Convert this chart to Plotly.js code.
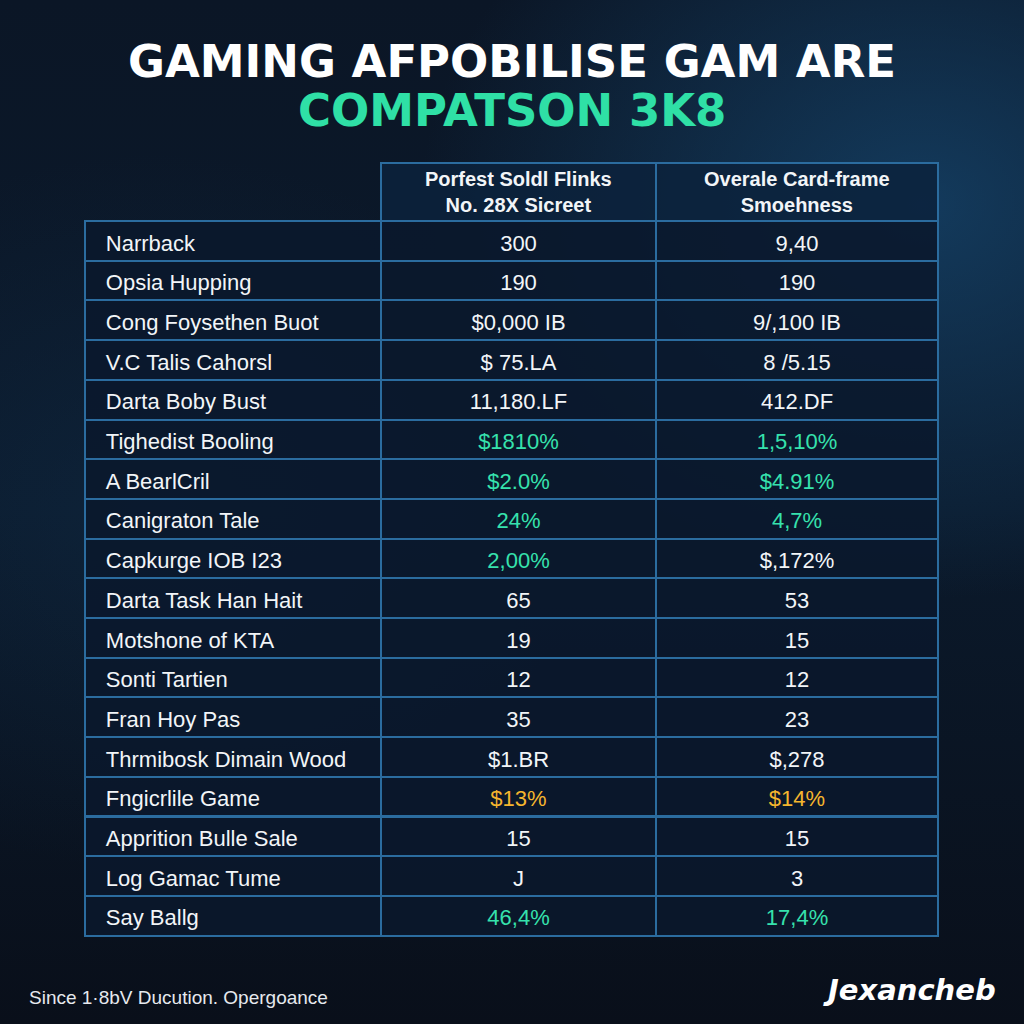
<!DOCTYPE html>
<html>
<head>
<meta charset="utf-8">
<script src="https://cdn.plot.ly/plotly-3.0.1.min.js"></script>
<style>
  html, body { margin: 0; padding: 0; width: 1024px; height: 1024px; overflow: hidden; }
  body {
    background:
      radial-gradient(ellipse 70% 55% at 90% 20%, rgba(22,70,110,0.75), rgba(22,70,110,0) 70%),
      radial-gradient(ellipse 60% 50% at 15% 50%, rgba(18,50,80,0.35), rgba(18,50,80,0) 70%),
      linear-gradient(180deg, #0b1626 0%, #0b1a2c 50%, #090f1a 100%);
  }
  #chart { width: 1024px; height: 1024px; }
</style>
</head>
<body>
<div id="chart"></div>
<script>
// ---- data ----
const titleLine1 = "GAMING AFPOBILISE GAM ARE";
const titleLine2 = "COMPATSON 3K8";
const columnHeaders = ["", "Porfest Soldl Flinks<br>No. 28X Sicreet", "Overale Card-frame<br>Smoehness"];
const rowLabels = [
  "Narrback", "Opsia Hupping", "Cong Foysethen Buot", "V.C Talis Cahorsl", "Darta Boby Bust",
  "Tighedist Booling", "A BearlCril", "Canigraton Tale", "Capkurge IOB I23", "Darta Task Han Hait",
  "Motshone of KTA", "Sonti Tartien", "Fran Hoy Pas", "Thrmibosk Dimain Wood", "Fngicrlile Game",
  "Apprition Bulle Sale", "Log Gamac Tume", "Say Ballg"
];
const seriesA = [
  "300", "190", "$0,000 IB", "$ 75.LA", "11,180.LF",
  "$1810%", "$2.0%", "24%", "2,00%", "65",
  "19", "12", "35", "$1.BR", "$13%",
  "15", "J", "46,4%"
];
const seriesB = [
  "9,40", "190", "9/,100 IB", "8 /5.15", "412.DF",
  "1,5,10%", "$4.91%", "4,7%", "$,172%", "53",
  "15", "12", "23", "$,278", "$14%",
  "15", "3", "17,4%"
];
// highlight kind per cell: "g" green, "o" orange, "" white
const highlightA = ["", "", "", "", "", "g", "g", "g", "g", "", "", "", "", "", "o", "", "", "g"];
const highlightB = ["", "", "", "", "", "g", "g", "g", "", "", "", "", "", "", "o", "", "", "g"];
const footnote = "Since 1·8bV Ducution. Opergoance";
const brand = "Jexancheb";

// ---- styles ----
const WHITE = "#f2f5f8", GREEN = "#36e2ad", ORANGE = "#f5b52e";
const col = k => k === "g" ? GREEN : (k === "o" ? ORANGE : WHITE);
const cellFill = "rgba(10,24,44,0.88)";
const lineColor = "#2b6c9f";
const X0 = 85, X1 = 938, TOP = 163, HEADER_H = 58;
const colW = [296, 275, 282];

const trace = {
  type: "table",
  domain: { x: [X0/1024, X1/1024], y: [0, 1 - TOP/1024] },
  columnwidth: colW,
  header: {
    values: columnHeaders.map(() => ""),
    align: "center",
    height: HEADER_H,
    line: { color: ["rgba(0,0,0,0)", lineColor, lineColor], width: 2 },
    fill: { color: ["rgba(0,0,0,0)", "rgba(12,34,60,0.85)", "rgba(12,34,60,0.85)"] },
    font: { family: "Liberation Sans, Arial, sans-serif", size: 20, color: WHITE, weight: "bold" }
  },
  cells: {
    values: [rowLabels.map(s => "\u2002\u200a" + s), seriesA, seriesB],
    align: ["left", "center", "center"],
    height: 39.7,
    line: { color: lineColor, width: 2 },
    fill: { color: cellFill },
    font: {
      family: "Liberation Sans, Arial, sans-serif",
      size: 22,
      color: [
        rowLabels.map(() => WHITE),
        highlightA.map(col),
        highlightB.map(col)
      ]
    }
  }
};

// header labels drawn centred line by line over the header cells
const headerAnns = [];
let acc = X0;
columnHeaders.forEach((h, i) => {
  const cx = acc + colW[i] / 2;
  acc += colW[i];
  if (!h) return;
  headerAnns.push({
    text: h, xref: "paper", yref: "paper", x: cx/1024, y: 1 - (TOP + HEADER_H/2)/1024,
    xanchor: "center", yanchor: "middle", align: "center", showarrow: false,
    font: { family: "Liberation Sans, Arial, sans-serif", size: 20, color: WHITE, weight: "bold" }
  });
});

const layout = {
  width: 1024, height: 1024,
  margin: { l: 0, r: 0, t: 0, b: 0 },
  paper_bgcolor: "rgba(0,0,0,0)",
  plot_bgcolor: "rgba(0,0,0,0)",
  showlegend: false,
  annotations: [
    { text: titleLine1, xref: "paper", yref: "paper", x: 0.5, y: 1 - 61/1024, xanchor: "center", yanchor: "middle",
      showarrow: false, font: { family: "DejaVu Sans, sans-serif", size: 45, color: "#ffffff", weight: "bold" } },
    { text: titleLine2, xref: "paper", yref: "paper", x: 0.5, y: 1 - 110/1024, xanchor: "center", yanchor: "middle",
      showarrow: false, font: { family: "DejaVu Sans, sans-serif", size: 45, color: "#2fe0a6", weight: "bold" } },
    { text: footnote, xref: "paper", yref: "paper", x: 27/1024, y: 1 - 997/1024, xanchor: "left", yanchor: "middle",
      showarrow: false, font: { family: "Liberation Sans, Arial, sans-serif", size: 19, color: "#e6e9ee" } },
    { text: "<i>" + brand + "</i>", xref: "paper", yref: "paper", x: 998/1024, y: 1 - 990/1024, xanchor: "right", yanchor: "middle",
      showarrow: false, font: { family: "DejaVu Sans, sans-serif", size: 29, color: "#ffffff", weight: "bold" } }
  ].concat(headerAnns)
};

Plotly.newPlot("chart", [trace], layout, { displayModeBar: false, staticPlot: true }).then(gd => {
  // nudge body cell text down a few pixels so it sits centred in each row
  const NS = "http://www.w3.org/2000/svg";
  gd.querySelectorAll("text.cell-text").forEach(t => {
    if (!t.textContent) return;
    const g = document.createElementNS(NS, "g");
    g.setAttribute("transform", "translate(0,5)");
    t.parentNode.insertBefore(g, t);
    g.appendChild(t);
  });
});
</script>
</body>
</html>
